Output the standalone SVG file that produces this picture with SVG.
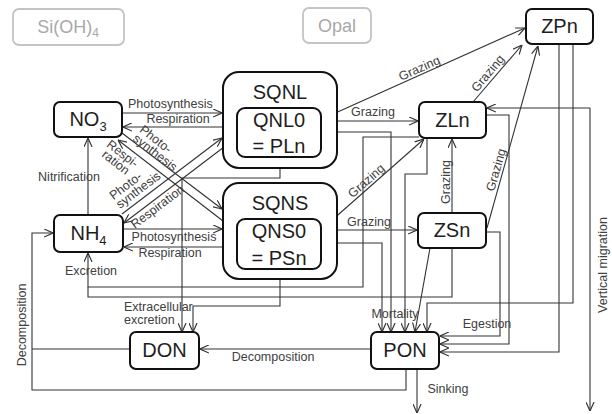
<svg xmlns="http://www.w3.org/2000/svg" width="612" height="414" viewBox="0 0 612 414">
<style>
.box{fill:#fff;stroke:#111;stroke-width:2}
.gbox{fill:#fff;stroke:#c4c4c4;stroke-width:1.8}
.nt{font-family:"Liberation Sans",Arial,sans-serif;font-size:20px;fill:#1e1e1e;text-anchor:middle}
.gt{font-family:"Liberation Sans",Arial,sans-serif;font-size:18px;fill:#a8a8a8;text-anchor:middle}
.lb{font-family:"Liberation Sans",Arial,sans-serif;font-size:12.5px;fill:#404040}
.m{text-anchor:middle}
.c{fill:none;stroke:#333;stroke-width:1.1}
.a{marker-end:url(#ah)}
</style>
<defs>
<marker id="ah" viewBox="0 0 10 10" refX="10" refY="5" markerUnits="userSpaceOnUse" markerWidth="9" markerHeight="9" orient="auto">
<path d="M0,0.5 L10,5 L0,9.5" fill="none" stroke="#333" stroke-width="1.3"/>
</marker>
</defs>

<g id="connectors">
<path class="c a" d="M122,113 H222"/>
<path class="c a" d="M223,127 H123"/>
<path class="c a" d="M122,133 L222,209"/>
<path class="c a" d="M223,221 L118,140"/>
<path class="c a" d="M122,214 L222,138"/>
<path class="c a" d="M224,147 L124,223"/>
<path class="c a" d="M123,229 H222"/>
<path class="c a" d="M223,247 H124"/>
<path class="c a" d="M88,215 V138"/>
<path class="c a" d="M419,137 H363 V287 H88 V253"/>
<path class="c" d="M452,248 V297 H88 V287"/>
<path class="c a" d="M280,168 V178 H182 V332"/>
<path class="c a" d="M280,279 V306 H193 V332"/>
<path class="c a" d="M321,243 H382 V332"/>
<path class="c a" d="M321,132 H391 V332"/>
<path class="c a" d="M427,138 V174 H405 V332"/>
<path class="c a" d="M430,248 L415,332"/>
<path class="c a" d="M573,44 V303 H427 V332"/>
<path class="c a" d="M486,232 H500 V336 H440"/>
<path class="c a" d="M486,115 H509 V344 H440"/>
<path class="c a" d="M559,44 V352 H440"/>
<path class="c a" d="M590,108 V411"/>
<path class="c a" d="M590,108 H487"/>
<path class="c a" d="M371,349 H200"/>
<path class="c" d="M130,349 H32"/>
<path class="c a" d="M406,369 V390 H32 V233 H53"/>
<path class="c a" d="M417,369 V413"/>
<path class="c a" d="M321,121 H418"/>
<path class="c a" d="M322,119 L525,28"/>
<path class="c a" d="M321,230 H417"/>
<path class="c a" d="M322,229 L424,139"/>
<path class="c a" d="M452,213 V139"/>
<path class="c a" d="M487,228 L538,46"/>
<path class="c a" d="M473,102 L522,45"/>
</g>

<g id="labels">
<text class="lb" x="128" y="108">Photosynthesis</text>
<text class="lb m" x="178" y="123">Respiration</text>
<g transform="translate(132,140) rotate(37.6)"><text class="lb" font-size="12"><tspan x="0" y="-11">Photo-</tspan><tspan x="0" y="0">synthesis</tspan></text></g>
<g transform="translate(120,157) rotate(38)"><text class="lb m" font-size="12"><tspan x="0" y="0">Respi-</tspan><tspan x="0" y="11">ration</tspan></text></g>
<g transform="translate(120,209) rotate(-37)"><text class="lb" font-size="12"><tspan x="0" y="-11">Photo-</tspan><tspan x="0" y="0">synthesis</tspan></text></g>
<g transform="translate(160,210) rotate(-37)"><text class="lb m" font-size="12">Respiration</text></g>
<text class="lb m" x="174" y="241">Photosynthesis</text>
<text class="lb m" x="170" y="257">Respiration</text>
<text class="lb m" x="69" y="181">Nitrification</text>
<text class="lb m" x="91" y="275">Excretion</text>
<text class="lb" x="124" y="311" font-size="11">Extracellular</text>
<text class="lb" x="124" y="324" font-size="11">excretion</text>
<text class="lb m" x="395" y="318">Mortality</text>
<text class="lb m" x="487" y="328">Egestion</text>
<text class="lb m" x="273" y="361">Decomposition</text>
<g transform="translate(26,325) rotate(-90)"><text class="lb m">Decomposition</text></g>
<text class="lb m" x="448" y="393">Sinking</text>
<g transform="translate(607,265) rotate(-90)"><text class="lb m">Vertical migration</text></g>
<text class="lb m" x="373" y="116">Grazing</text>
<text class="lb m" x="369" y="226">Grazing</text>
<g transform="translate(421,72) rotate(-24)"><text class="lb m">Grazing</text></g>
<g transform="translate(491,76) rotate(-50)"><text class="lb m">Grazing</text></g>
<g transform="translate(500,171) rotate(-74)"><text class="lb m">Grazing</text></g>
<g transform="translate(450,182) rotate(-90)"><text class="lb m">Grazing</text></g>
<g transform="translate(369,184) rotate(-41.5)"><text class="lb m">Grazing</text></g>
</g>

<g id="SiOH4"><rect class="gbox" x="13" y="9" width="111" height="36" rx="6"/><text class="gt" x="68" y="33">Si(OH)<tspan font-size="12" dy="4">4</tspan></text></g>
<g id="Opal"><rect class="gbox" x="303" y="8" width="68" height="35" rx="6"/><text class="gt" x="337" y="32">Opal</text></g>
<g id="ZPn"><rect class="box" x="526" y="9" width="67" height="35" rx="6"/><text class="nt" x="559.5" y="33">ZPn</text></g>
<g id="NO3"><rect class="box" x="54" y="102" width="68" height="35" rx="6"/><text class="nt" x="88" y="126">NO<tspan font-size="13" dy="5">3</tspan></text></g>
<g id="NH4"><rect class="box" x="54" y="215" width="69" height="37" rx="6"/><text class="nt" x="88.5" y="240">NH<tspan font-size="13" dy="5">4</tspan></text></g>
<g id="SQNL"><rect class="box" x="223" y="72" width="114" height="96" rx="16" stroke-width="2.2"/><text class="nt" x="280" y="99">SQNL</text>
<rect class="box" x="237" y="108" width="84" height="49" rx="8"/><text class="nt" x="279" y="127">QNL0</text><text class="nt" x="279" y="153">= PLn</text></g>
<g id="SQNS"><rect class="box" x="223" y="183" width="114" height="96" rx="16" stroke-width="2.2"/><text class="nt" x="280" y="210">SQNS</text>
<rect class="box" x="237" y="219" width="84" height="50" rx="8"/><text class="nt" x="279" y="238">QNS0</text><text class="nt" x="279" y="265">= PSn</text></g>
<g id="ZLn"><rect class="box" x="419" y="102" width="67" height="36" rx="6"/><text class="nt" x="452.5" y="127">ZLn</text></g>
<g id="ZSn"><rect class="box" x="418" y="213" width="68" height="35" rx="6"/><text class="nt" x="452" y="237">ZSn</text></g>
<g id="DON"><rect class="box" x="130" y="332" width="69" height="37" rx="6"/><text class="nt" x="164.5" y="357">DON</text></g>
<g id="PON"><rect class="box" x="371" y="332" width="68" height="37" rx="6"/><text class="nt" x="405" y="357">PON</text></g>
</svg>
